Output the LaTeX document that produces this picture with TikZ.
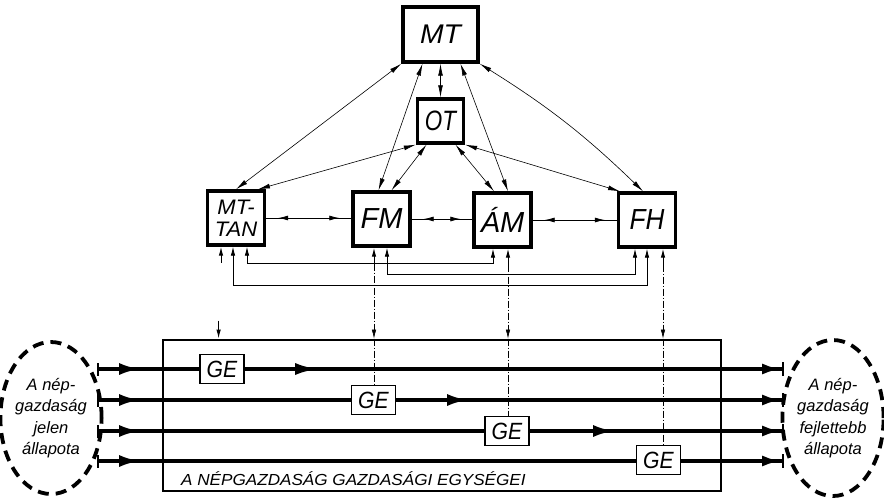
\documentclass[tikz,border=0pt]{standalone}
\usepackage{fontspec}
\setmainfont{Liberation Sans}
\usetikzlibrary{arrows.meta,decorations.markings,calc,shapes.geometric}
\begin{document}
\begin{tikzpicture}[x=1pt,y=-1pt,
  ministry/.style={draw,line width=3.4pt,minimum width=57pt,minimum height=54pt,inner sep=0pt,
    font=\fontsize{29}{29}\selectfont\itshape},
  gebox/.style={draw,fill=white,line width=1.1pt,minimum width=44pt,minimum height=29pt,inner sep=0pt,
    font=\fontsize{23.5}{23.5}\selectfont\itshape},
  link/.style={line width=0.6pt,{Latex[length=12pt,width=4.8pt]}-{Latex[length=12pt,width=4.8pt]}},
  hlink/.style={line width=0.8pt,postaction={decorate},decoration={markings,
    mark=at position 12pt with {\arrowreversed{Latex[length=10pt,width=5pt]}},
    mark=at position -12pt with {\arrow{Latex[length=10pt,width=5pt]}}}},
  fb/.style={line width=0.8pt},
  stubarrow/.style={line width=1pt,-{Latex[length=9pt,width=4.5pt]}},
  dashdot/.style={line width=0.6pt,dash pattern=on 7pt off 2pt on 1pt off 2pt},
  flowline/.style={line width=4pt},
  blob/.style={ellipse,draw,line width=3.8pt,dash pattern=on 11pt off 7pt,inner sep=0pt,align=center,
    font=\fontsize{16.5}{21.5}\selectfont\itshape},
]
\useasboundingbox (0,0) rectangle (884,499);

% ministries
\node[ministry,minimum width=75pt,minimum height=55pt,font=\fontsize{27}{27}\selectfont\itshape] (MT) at (440.5,34.5) {\scalebox{1.05}[1]{MT}};
\node[ministry,minimum width=46pt,minimum height=44pt,font=\fontsize{28}{28}\selectfont\itshape] (OT) at (440.5,121) {\scalebox{0.8}[1]{OT}};
\node[ministry,align=center,font=\fontsize{21}{22}\selectfont\itshape] (TAN) at (236,218) {\scalebox{1.05}[1]{MT-}\\\scalebox{1.05}[1]{TAN}};
\node[ministry] (FM) at (381.5,219) {FM};
\node[ministry] (AM) at (502.5,220) {ÁM};
\node[ministry] (FH) at (647,220) {\scalebox{0.9}[1]{FH}};

% links from MT and OT
\draw[link] (MT.south west) -- (TAN.north);
\draw[link] ([xshift=-18pt]MT.south) -- ([xshift=-3pt]FM.north);
\draw[link] (MT.south) -- (OT.north);
\draw[link] ([xshift=20pt]MT.south) -- ([xshift=5.5pt]AM.north);
\draw[link] (MT.south east) to[bend left=6] ([xshift=-4pt]FH.north);
\draw[link] (OT.south west) -- ([xshift=22pt]TAN.north);
\draw[link] ([xshift=-14pt]OT.south) -- ([xshift=10pt]FM.north);
\draw[link] ([xshift=15pt]OT.south) -- ([xshift=-8.5pt]AM.north);
\draw[link] (OT.south east) -- ([xshift=-27pt]FH.north);

% horizontal links
\draw[hlink] (TAN.east) -- (TAN.east -| FM.west);
\draw[hlink] (FM.east) -- (FM.east -| AM.west);
\draw[hlink] (AM.east) -- (AM.east -| FH.west);

% main box
\node[draw,line width=2.8pt,minimum width=558pt,minimum height=151pt,inner sep=0pt] (main) at (442,415.5) {};

% flows
\coordinate (l1) at (97,369); \coordinate (r1) at (784,369);
\coordinate (l2) at (97,400); \coordinate (r2) at (784,400);
\coordinate (l3) at (97,431); \coordinate (r3) at (784,431);
\coordinate (l4) at (97,461); \coordinate (r4) at (784,461);
\draw[flowline,{Bar[width=13pt,line width=2pt]}-{Latex[length=20pt,width=11pt]Bar[width=14pt,line width=2pt]},
  postaction={decorate},decoration={markings,
   mark=at position 44pt with {\arrow{Latex[length=22pt,width=12pt]}},
   mark=at position 222pt with {\arrow{Latex[length=24pt,width=12pt]}}}] (l1) -- (r1);
\draw[flowline,{Bar[width=13pt,line width=2pt]}-{Latex[length=20pt,width=11pt]Bar[width=14pt,line width=2pt]},
  postaction={decorate},decoration={markings,
   mark=at position 44pt with {\arrow{Latex[length=22pt,width=12pt]}},
   mark=at position 372pt with {\arrow{Latex[length=22pt,width=12pt]}}}] (l2) -- (r2);
\draw[flowline,{Bar[width=13pt,line width=2pt]}-{Latex[length=20pt,width=11pt]Bar[width=14pt,line width=2pt]},
  postaction={decorate},decoration={markings,
   mark=at position 44pt with {\arrow{Latex[length=22pt,width=12pt]}},
   mark=at position 518pt with {\arrow{Latex[length=22pt,width=12pt]}}}] (l3) -- (r3);
\draw[flowline,{Bar[width=13pt,line width=2pt]}-{Latex[length=20pt,width=11pt]Bar[width=14pt,line width=2pt]},
  postaction={decorate},decoration={markings,
   mark=at position 44pt with {\arrow{Latex[length=22pt,width=12pt]}}}] (l4) -- (r4);

% feedback stubs and lines
\coordinate (a1) at ($(TAN.south)+(-15,16)$);
\coordinate (a2) at ($(FM.south)+(-7.5,16)$);
\coordinate (a3) at ($(AM.south)+(5.5,16)$);
\coordinate (a4) at ($(FH.south)+(16,16)$);
\draw[stubarrow] (a1) -- (a1 |- TAN.south);
\draw[stubarrow] (a2) -- (a2 |- FM.south);
\draw[stubarrow] (a3) -- (a3 |- AM.south);
\draw[stubarrow] (a4) -- (a4 |- FH.south);

\draw[fb,{Latex[length=9pt,width=4.5pt]}-{Latex[length=9pt,width=4.5pt]}]
  ([xshift=11pt]TAN.south) -- ++(0,17) -| ([xshift=-9.5pt]AM.south);
\draw[fb,{Latex[length=9pt,width=4.5pt]}-{Latex[length=9pt,width=4.5pt]}]
  ([xshift=5.5pt]FM.south) -- ++(0,27) -| ([xshift=-12pt]FH.south);
\draw[fb,{Latex[length=9pt,width=4.5pt]}-{Latex[length=9pt,width=4.5pt]}]
  ([xshift=-3pt]TAN.south) -- ++(0,39) -| (FH.south);

% GE boxes
\node[gebox] (GE1) at (222,369) {\scalebox{0.9}[1]{GE}};
\node[gebox] (GE2) at (373.5,400) {\scalebox{0.9}[1]{GE}};
\node[gebox] (GE3) at (507,431) {\scalebox{0.9}[1]{GE}};
\node[gebox] (GE4) at (658.5,460) {\scalebox{0.9}[1]{GE}};

% dash-dot verticals into the economic units
\draw[dashdot,-{Latex[length=9pt,width=4.5pt]}] (a2) -- (a2 |- main.north);
\draw[dashdot] (a2 |- main.north) -- (a2 |- GE2.north);
\draw[dashdot,-{Latex[length=9pt,width=4.5pt]}] (a3) -- (a3 |- main.north);
\draw[dashdot] (a3 |- main.north) -- (a3 |- GE3.north);
\draw[dashdot,-{Latex[length=9pt,width=4.5pt]}] (a4) -- (a4 |- main.north);
\draw[dashdot] (a4 |- main.north) -- (a4 |- GE4.north);
\coordinate (t1) at ($(main.north west)+(57,-18)$);
\draw[stubarrow] (t1) -- (t1 |- main.north);

% label of main box
\node[anchor=base west,inner sep=0pt,font=\fontsize{16}{16}\selectfont\itshape] (lab) at (181,485)
  {\scalebox{1.07}[1]{A NÉPGAZDASÁG GAZDASÁGI EGYSÉGEI}};

% blobs
\node[blob,minimum width=94pt,minimum height=152pt] (L) at (51,418) {A nép-\\gazdaság\\jelen\\állapota};
\node[blob,minimum width=99pt,minimum height=156pt] (R) at (833,418) {A nép-\\gazdaság\\fejlettebb\\állapota};
\end{tikzpicture}
\end{document}
